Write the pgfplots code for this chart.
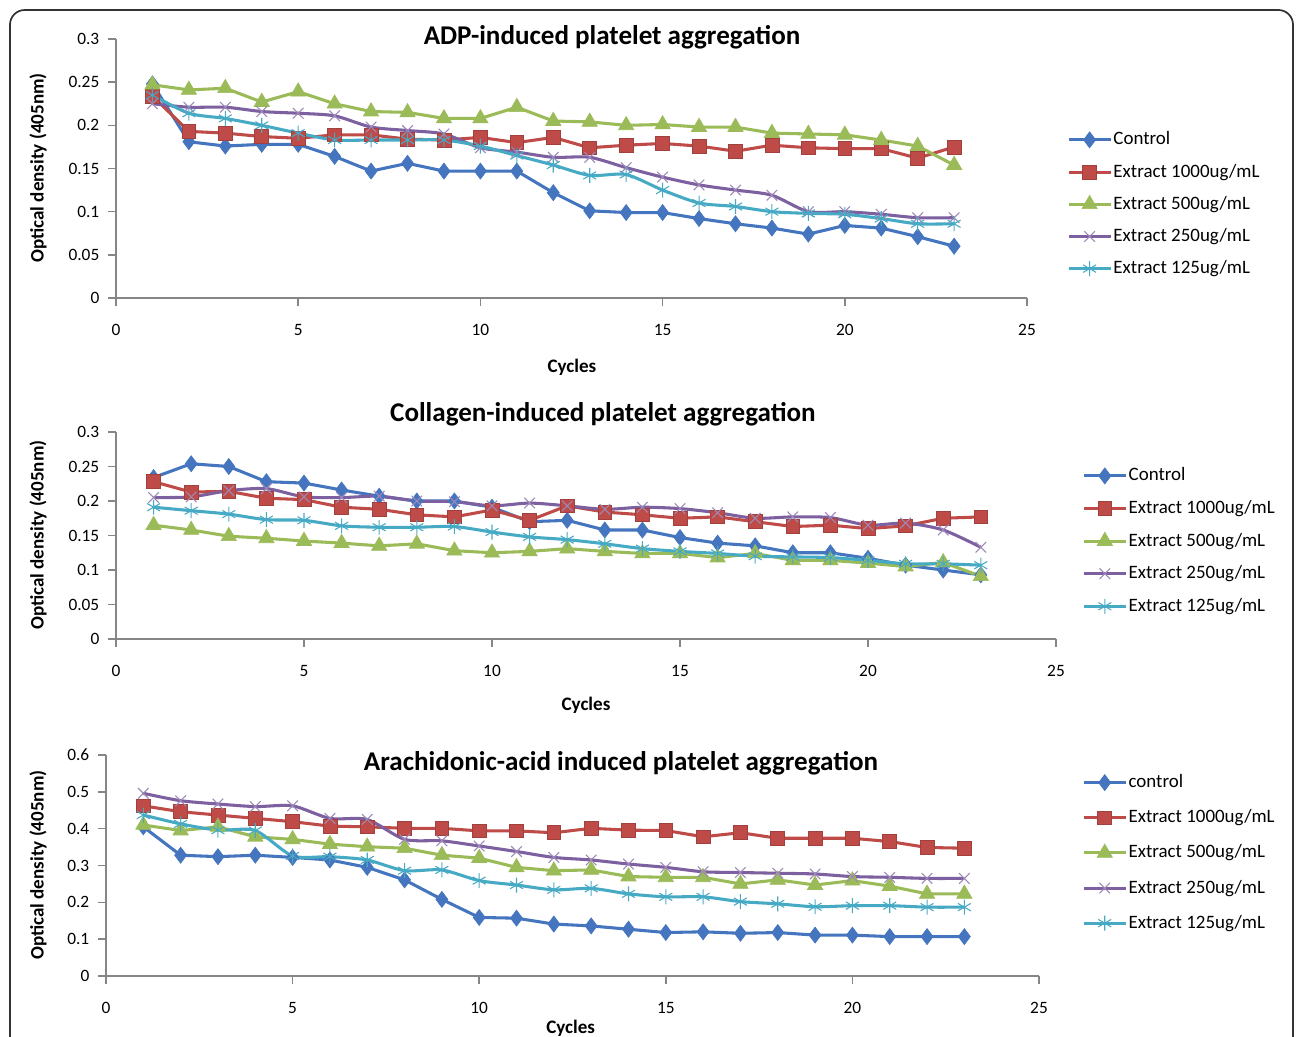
\documentclass[border=0pt]{standalone}
\usepackage{pgfplots}
\pgfplotsset{compat=1.18}
\usepackage{pgfplotstable}
\usepackage{fontspec}
\setmainfont{Carlito}
\definecolor{cblue}{HTML}{4575BF}
\definecolor{cred}{HTML}{BE4B48}
\definecolor{cgreen}{HTML}{9BBB59}
\definecolor{cpurple}{HTML}{7D60A0}
\definecolor{ccyan}{HTML}{46AAC5}
\definecolor{axgray}{HTML}{868686}

\pgfplotstableread{
x c r g p a
1 0.248 0.234 0.247 0.225 0.235
2 0.181 0.193 0.241 0.221 0.214
3 0.176 0.191 0.243 0.221 0.208
4 0.178 0.187 0.227 0.216 0.200
5 0.178 0.185 0.239 0.214 0.191
6 0.164 0.189 0.225 0.211 0.183
7 0.147 0.189 0.216 0.198 0.183
8 0.156 0.184 0.215 0.194 0.183
9 0.147 0.183 0.208 0.190 0.183
10 0.147 0.186 0.208 0.174 0.176
11 0.147 0.180 0.221 0.169 0.165
12 0.122 0.186 0.205 0.163 0.154
13 0.101 0.174 0.204 0.163 0.142
14 0.099 0.177 0.200 0.151 0.143
15 0.099 0.179 0.201 0.140 0.125
16 0.092 0.176 0.198 0.131 0.110
17 0.086 0.170 0.198 0.125 0.106
18 0.081 0.177 0.191 0.119 0.100
19 0.074 0.174 0.190 0.100 0.098
20 0.084 0.173 0.189 0.100 0.097
21 0.081 0.173 0.183 0.097 0.092
22 0.071 0.162 0.176 0.093 0.086
23 0.060 0.175 0.154 0.093 0.086
}\adp

\pgfplotstableread{
x c r g p a
1 0.234 0.228 0.165 0.205 0.191
2 0.254 0.213 0.158 0.206 0.186
3 0.250 0.214 0.149 0.215 0.181
4 0.228 0.204 0.146 0.218 0.173
5 0.226 0.202 0.142 0.206 0.172
6 0.216 0.191 0.139 0.205 0.164
7 0.207 0.188 0.135 0.207 0.162
8 0.200 0.180 0.138 0.200 0.162
9 0.200 0.177 0.128 0.199 0.163
10 0.191 0.187 0.125 0.193 0.155
11 0.170 0.172 0.127 0.197 0.148
12 0.172 0.193 0.131 0.193 0.144
13 0.158 0.184 0.127 0.188 0.138
14 0.158 0.180 0.124 0.191 0.131
15 0.147 0.175 0.124 0.189 0.127
16 0.139 0.177 0.118 0.183 0.124
17 0.135 0.170 0.124 0.175 0.120
18 0.125 0.163 0.114 0.177 0.119
19 0.125 0.165 0.114 0.176 0.118
20 0.117 0.160 0.110 0.165 0.114
21 0.107 0.164 0.105 0.168 0.109
22 0.100 0.175 0.111 0.158 0.109
23 0.093 0.177 0.091 0.133 0.107
}\col

\pgfplotstableread{
x c r g p a
1 0.405 0.462 0.410 0.496 0.437
2 0.328 0.446 0.395 0.476 0.413
3 0.324 0.437 0.405 0.467 0.396
4 0.328 0.428 0.378 0.460 0.395
5 0.322 0.419 0.371 0.462 0.326
6 0.315 0.407 0.358 0.428 0.324
7 0.295 0.405 0.351 0.425 0.315
8 0.261 0.401 0.347 0.371 0.286
9 0.208 0.401 0.328 0.367 0.288
10 0.159 0.394 0.320 0.353 0.259
11 0.157 0.394 0.295 0.338 0.247
12 0.141 0.389 0.286 0.322 0.234
13 0.136 0.401 0.288 0.315 0.238
14 0.127 0.396 0.270 0.304 0.223
15 0.118 0.395 0.268 0.295 0.215
16 0.120 0.378 0.268 0.283 0.215
17 0.116 0.389 0.250 0.281 0.202
18 0.118 0.374 0.261 0.279 0.196
19 0.111 0.374 0.247 0.277 0.188
20 0.111 0.374 0.259 0.270 0.191
21 0.107 0.365 0.244 0.268 0.191
22 0.107 0.349 0.223 0.265 0.187
23 0.107 0.347 0.223 0.265 0.187
}\aa

\pgfplotsset{
  exc/.style={
    scale only axis, anchor=south west,
    xmin=0, xmax=25, ymin=0,
    axis lines*=left,
    axis line style={draw=axgray, line width=1.1pt},
    tick style={draw=axgray, line width=1.1pt},
    tick align=outside,
    major tick length=6pt,
    xtick={0,5,10,15,20,25},
    xticklabels={0,5,10,15,20,25},
    ticklabel style={font=\fontsize{13}{15}\selectfont, text=black},
    xticklabel style={yshift=-10pt},
    yticklabel style={xshift=-3pt},
    every axis title shift=0pt,
    title style={font=\bfseries\fontsize{20.3}{24}\selectfont, anchor=center},
    xlabel style={font=\bfseries\fontsize{14.3}{16}\selectfont, anchor=center},
    ylabel style={font=\bfseries\fontsize{14.3}{16}\selectfont, anchor=center},
    clip=false,
    legend cell align=left,
    legend style={draw=none, fill=none, font=\fontsize{14.2}{16}\selectfont,
      inner sep=0pt, row sep=9.9pt, anchor=west,
      nodes={inner sep=1pt, text depth=0.5ex}},
    legend image code/.code={\draw[mark repeat=2,mark phase=2] plot coordinates {(0pt,0pt) (15.75pt,0pt) (31.5pt,0pt)};},
  },
  sc/.style={color=cblue, line width=2.3pt, mark=diamond*, mark size=6pt, mark options={solid, fill=cblue, draw=cblue, line width=0.5pt}},
  sr/.style={color=cred, line width=2.3pt, mark=square*, mark size=5.2pt, mark options={solid, fill=cred, draw=cred!85!black, line width=0.5pt}},
  sg/.style={color=cgreen, line width=2.3pt, mark=triangle*, mark size=6.6pt, mark options={solid, fill=cgreen, draw=cgreen, line width=0.5pt}},
  sp/.style={color=cpurple, line width=2.3pt, smooth, tension=0.45, mark=x, mark size=5.6pt, mark options={solid, draw=cpurple!75!white, line width=0.8pt}},
  sa/.style={color=ccyan, line width=2.3pt, smooth, tension=0.45, mark=asterisk, mark size=5.6pt, mark options={solid, draw=ccyan, line width=0.8pt}},
}

\begin{document}
\begin{tikzpicture}
\useasboundingbox (0,0) rectangle (972pt,-777pt);
\draw[line width=1.3pt, black!80, rounded corners=11pt] (7.5pt,-800pt) -- (7.5pt,-7.5pt) -- (969.75pt,-7.5pt) -- (969.75pt,-800pt);

% Panel 1: ADP
\begin{axis}[exc, at={(87pt,-223.5pt)}, width=683.25pt, height=194.25pt,
  ymax=0.3, ytick={0,0.05,0.1,0.15,0.2,0.25,0.3},
  yticklabels={0,0.05,0.1,0.15,0.2,0.25,0.3},
  title={ADP-induced platelet aggregation},
  title style={at={(0.5445,1.008)}},
  xlabel={Cycles}, xlabel style={at={(0.5005,-0.266)}},
  ylabel={Optical density (405nm)}, ylabel style={at={(-0.0856,0.502)}},
  legend style={at={(1.0437,0.362)}},
]
\addplot[sc] table[x=x,y=c] {\adp}; \addlegendentry{Control}
\addplot[sr] table[x=x,y=r] {\adp}; \addlegendentry{Extract 1000ug/mL}
\addplot[sg] table[x=x,y=g] {\adp}; \addlegendentry{Extract 500ug/mL}
\addplot[sp] table[x=x,y=p] {\adp}; \addlegendentry{Extract 250ug/mL}
\addplot[sa] table[x=x,y=a] {\adp}; \addlegendentry{Extract 125ug/mL}
\end{axis}

% Panel 2: Collagen
\begin{axis}[exc, at={(87pt,-479.25pt)}, width=705pt, height=155.25pt,
  ymax=0.3, ytick={0,0.05,0.1,0.15,0.2,0.25,0.3},
  yticklabels={0,0.05,0.1,0.15,0.2,0.25,0.3},
  title={Collagen-induced platelet aggregation},
  title style={at={(0.518,1.087)}},
  xlabel={Cycles}, xlabel style={at={(0.5,-0.319)}},
  ylabel={Optical density (405nm)}, ylabel style={at={(-0.083,0.502)}},
  legend style={at={(1.0277,0.473)}, row sep=10.2pt},
]
\addplot[sc] table[x=x,y=c] {\col}; \addlegendentry{Control}
\addplot[sr] table[x=x,y=r] {\col}; \addlegendentry{Extract 1000ug/mL}
\addplot[sg] table[x=x,y=g] {\col}; \addlegendentry{Extract 500ug/mL}
\addplot[sp] table[x=x,y=p] {\col}; \addlegendentry{Extract 250ug/mL}
\addplot[sa] table[x=x,y=a] {\col}; \addlegendentry{Extract 125ug/mL}
\end{axis}

% Panel 3: Arachidonic acid
\begin{axis}[exc, at={(79.5pt,-732pt)}, width=699.75pt, height=165.75pt,
  ymax=0.6, ytick={0,0.1,0.2,0.3,0.4,0.5,0.6},
  yticklabels={0,0.1,0.2,0.3,0.4,0.5,0.6},
  title={Arachidonic-acid induced platelet aggregation},
  title style={at={(0.552,0.962)}},
  xlabel={Cycles}, xlabel style={at={(0.498,-0.235)}},
  ylabel={Optical density (405nm)}, ylabel style={at={(-0.0729,0.502)}},
  legend style={at={(1.046,0.557)}, row sep=12.1pt},
]
\addplot[sc] table[x=x,y=c] {\aa}; \addlegendentry{control}
\addplot[sr] table[x=x,y=r] {\aa}; \addlegendentry{Extract 1000ug/mL}
\addplot[sg] table[x=x,y=g] {\aa}; \addlegendentry{Extract 500ug/mL}
\addplot[sp] table[x=x,y=p] {\aa}; \addlegendentry{Extract 250ug/mL}
\addplot[sa] table[x=x,y=a] {\aa}; \addlegendentry{Extract 125ug/mL}
\end{axis}
\end{tikzpicture}
\end{document}
